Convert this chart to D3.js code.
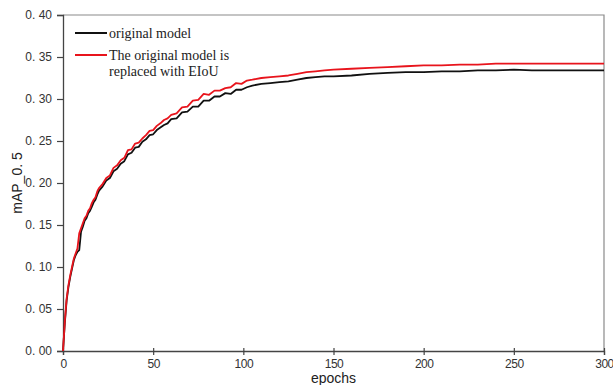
<!DOCTYPE html>
<html>
<head>
<meta charset="utf-8">
<script src="https://cdn.jsdelivr.net/npm/d3@7/dist/d3.min.js"></script>
<style>
  html, body { margin: 0; padding: 0; background: #fff; }
  svg { display: block; }
</style>
</head>
<body>
<script>
const epochs = [0,1,2,3,4,5,6,7,8,9,10,11,12,13,14,15,16,17,18,19,20,
  22,24,26,28,30,32,34,36,38,40,42,44,46,48,50,52,54,56,58,60,
  63,66,69,72,75,78,81,84,87,90,93,96,99,102,105,
  110,115,120,125,130,135,140,145,150,
  160,170,180,190,200,210,220,230,240,250,260,270,280,290,300];

const originalModel = [0.000,0.033,0.060,0.076,0.088,0.098,0.108,0.114,0.118,0.120,0.142,0.148,0.155,0.158,0.164,0.167,0.172,0.177,0.180,0.186,0.191,
  0.196,0.203,0.206,0.214,0.217,0.223,0.226,0.234,0.236,0.242,0.243,0.249,0.252,0.257,0.258,0.263,0.266,0.269,0.271,0.276,
  0.277,0.284,0.285,0.291,0.291,0.298,0.298,0.303,0.303,0.307,0.306,0.311,0.311,0.314,0.316,
  0.318,0.319,0.320,0.321,0.323,0.325,0.326,0.327,0.327,
  0.328,0.330,0.331,0.332,0.332,0.333,0.333,0.334,0.334,0.335,0.334,0.334,0.334,0.334,0.334];

const eiouModel = [0.000,0.035,0.062,0.078,0.090,0.100,0.110,0.116,0.122,0.140,0.146,0.152,0.158,0.161,0.167,0.170,0.176,0.180,0.183,0.190,0.194,
  0.199,0.206,0.209,0.218,0.221,0.227,0.230,0.239,0.240,0.247,0.248,0.253,0.257,0.262,0.263,0.268,0.271,0.275,0.277,0.281,
  0.283,0.290,0.291,0.298,0.299,0.306,0.305,0.310,0.310,0.313,0.314,0.319,0.318,0.322,0.323,
  0.325,0.326,0.327,0.328,0.330,0.332,0.333,0.334,0.335,
  0.336,0.337,0.338,0.339,0.340,0.340,0.341,0.341,0.342,0.342,0.342,0.342,0.342,0.342,0.342];

const xTicks = [0,50,100,150,200,250,300];
const yTicks = [0,0.05,0.10,0.15,0.20,0.25,0.30,0.35,0.40];
const seriesNames = ["original model", ["The original model is", "replaced with EIoU"]];
const seriesColors = ["#111111", "#e8141c"];

const W = 613, H = 385;
const margin = {left: 63, top: 15, right: 9, bottom: 34};

const svg = d3.select("body").append("svg").attr("width", W).attr("height", H);

const x = d3.scaleLinear().domain([0, 300]).range([margin.left, W - margin.right]);
const y = d3.scaleLinear().domain([0, 0.40]).range([H - margin.bottom, margin.top]);

// frame (top, right)
svg.append("path")
  .attr("d", `M${x(0)},${y(0.40)}H${x(300)}V${y(0)}`)
  .attr("fill", "none").attr("stroke", "#8a8a8a").attr("stroke-width", 1.2);

const fmt = v => d3.format(".2f")(v).replace(".", ". ");

// y axis
const yAxis = svg.append("g").attr("transform", `translate(${x(0)},0)`)
  .call(d3.axisLeft(y).tickValues(yTicks).tickFormat(fmt).tickSize(6).tickPadding(5));
yAxis.select(".domain").attr("stroke", "#444").attr("stroke-width", 1.3);
yAxis.selectAll(".tick line").attr("stroke", "#444").attr("stroke-width", 1.2);
yAxis.selectAll(".tick text").attr("font-family", "Liberation Sans, Arial, sans-serif")
  .attr("font-size", 12).attr("fill", "#333");

// x axis
const xAxis = svg.append("g").attr("transform", `translate(0,${y(0)})`)
  .call(d3.axisBottom(x).tickValues(xTicks).tickFormat(d3.format("d")).tickSize(4).tickPadding(4));
xAxis.select(".domain").attr("stroke", "#444").attr("stroke-width", 1.3);
xAxis.selectAll(".tick line").attr("stroke", "#444").attr("stroke-width", 1.2).attr("y1", -3);
xAxis.selectAll(".tick text").attr("font-family", "Liberation Sans, Arial, sans-serif")
  .attr("font-size", 12).attr("fill", "#333").attr("letter-spacing", "-0.5px");

// axis labels
svg.append("text").attr("x", x(150)).attr("y", 383)
  .attr("text-anchor", "middle").attr("font-family", "Liberation Sans, Arial, sans-serif")
  .attr("font-size", 14).attr("fill", "#222").text("epochs");
svg.append("text").attr("transform", `translate(22,${y(0.20)}) rotate(-90)`)
  .attr("text-anchor", "middle").attr("font-family", "Liberation Sans, Arial, sans-serif")
  .attr("font-size", 14).attr("fill", "#222").text("mAP_0. 5");

// lines
const line = vals => d3.line().x((d, i) => x(epochs[i])).y((d, i) => y(vals[i]))(vals);
svg.append("path").attr("d", line(originalModel)).attr("fill", "none")
  .attr("stroke", seriesColors[0]).attr("stroke-width", 1.8).attr("stroke-linejoin", "round");
svg.append("path").attr("d", line(eiouModel)).attr("fill", "none")
  .attr("stroke", seriesColors[1]).attr("stroke-width", 1.8).attr("stroke-linejoin", "round");

// legend
const leg = svg.append("g");
const legY = [33, 55];
seriesNames.forEach((name, i) => {
  leg.append("line").attr("x1", 75).attr("x2", 107).attr("y1", legY[i]).attr("y2", legY[i])
    .attr("stroke", seriesColors[i]).attr("stroke-width", 2);
  const lines = Array.isArray(name) ? name : [name];
  lines.forEach((t, j) => {
    leg.append("text").attr("x", 109).attr("y", legY[i] + 4.5 + j * 16)
      .attr("font-family", "Liberation Serif, Times New Roman, serif")
      .attr("font-size", 14).attr("fill", "#222").text(t);
  });
});
</script>
</body>
</html>
